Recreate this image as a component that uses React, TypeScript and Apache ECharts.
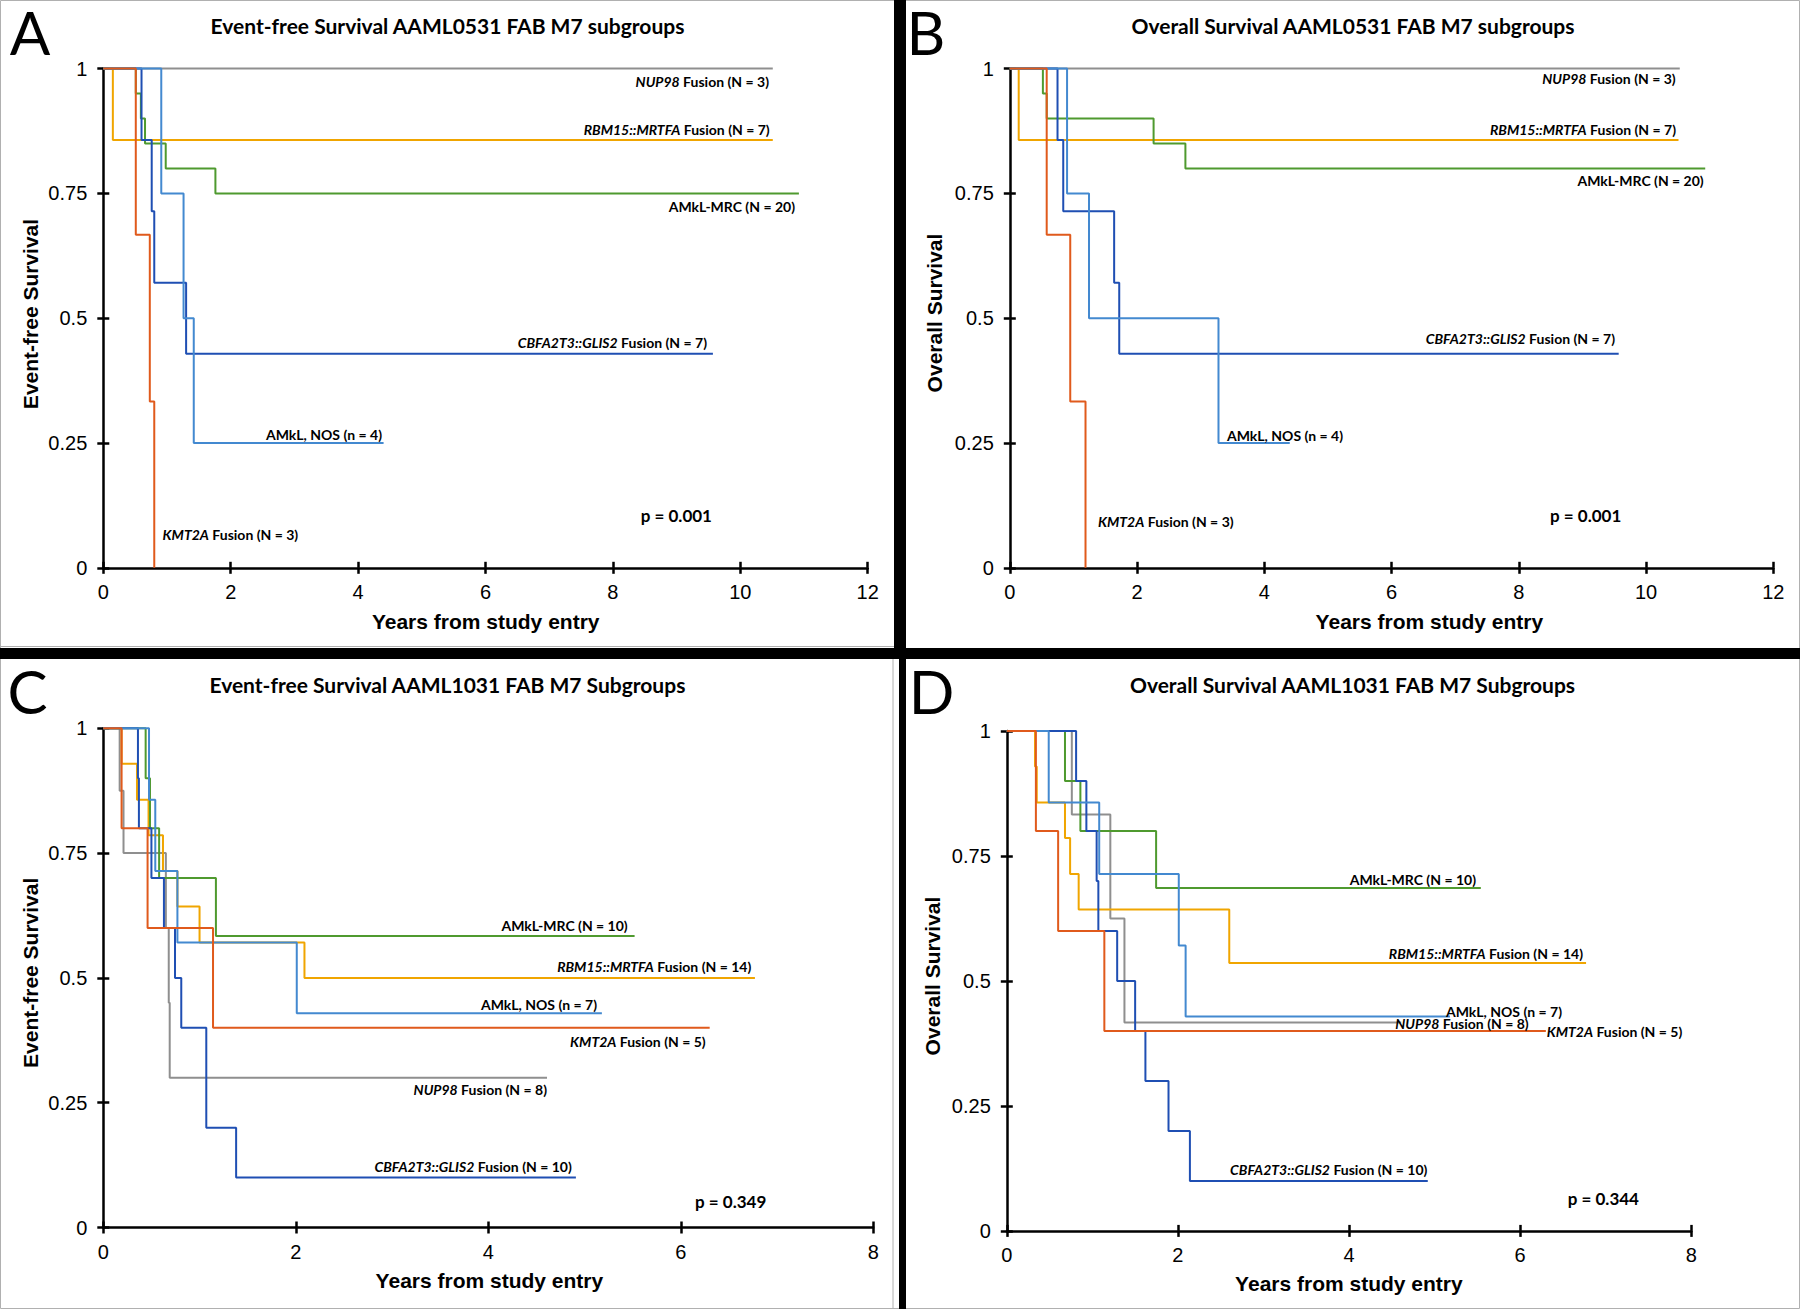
import React, { useEffect, useRef } from "react";
import * as echarts from "echarts";

const W = 1800;
const H = 1309;

// ---------------- DATA ----------------
const GROUPS = ["NUP98", "RBM15::MRTFA", "AMkL-MRC", "CBFA2T3::GLIS2", "AMkL, NOS", "KMT2A"];

// Panel A: Event-free survival AAML0531 (years, survival)
const efs0531_NUP98 = [[0, 1], [10.51, 1]];
const efs0531_RBM15 = [[0, 1], [0.15, 0.857], [10.51, 0.857]];
const efs0531_MRC = [[0, 1], [0.51, 0.95], [0.59, 0.9], [0.655, 0.85], [0.98, 0.8], [1.76, 0.75], [10.92, 0.75]];
const efs0531_CBFA2T3 = [[0, 1], [0.6, 0.857], [0.76, 0.714], [0.8, 0.571], [1.3, 0.429], [9.57, 0.429]];
const efs0531_NOS = [[0, 1], [0.91, 0.75], [1.26, 0.5], [1.42, 0.25], [4.4, 0.25]];
const efs0531_KMT2A = [[0, 1], [0.51, 0.667], [0.73, 0.333], [0.8, 0]];
const n0531 = [3, 7, 20, 7, 4, 3];

// Panel B: Overall survival AAML0531
const os0531_NUP98 = [[0, 1], [10.53, 1]];
const os0531_RBM15 = [[0, 1], [0.14, 0.857], [10.51, 0.857]];
const os0531_MRC = [[0, 1], [0.52, 0.95], [0.58, 0.9], [2.26, 0.85], [2.76, 0.8], [10.93, 0.8]];
const os0531_CBFA2T3 = [[0, 1], [0.75, 0.857], [0.84, 0.714], [1.64, 0.571], [1.72, 0.429], [9.57, 0.429]];
const os0531_NOS = [[0, 1], [0.9, 0.75], [1.245, 0.5], [3.28, 0.25], [4.4, 0.25]];
const os0531_KMT2A = [[0, 1], [0.58, 0.667], [0.95, 0.333], [1.19, 0]];

// Panel C: Event-free survival AAML1031
const efs1031_NUP98 = [[0, 1], [0.17, 0.875], [0.21, 0.75], [0.65, 0.6], [0.68, 0.45], [0.69, 0.3], [4.61, 0.3]];
const efs1031_RBM15 = [[0, 1], [0.19, 0.929], [0.35, 0.857], [0.47, 0.786], [0.62, 0.714], [0.77, 0.643], [1.0, 0.571], [2.09, 0.5], [6.77, 0.5]];
const efs1031_MRC = [[0, 1], [0.44, 0.9], [0.485, 0.8], [0.58, 0.7], [1.17, 0.584], [5.52, 0.584]];
const efs1031_CBFA2T3 = [[0, 1], [0.36, 0.9], [0.37, 0.8], [0.5, 0.7], [0.63, 0.6], [0.745, 0.5], [0.81, 0.4], [1.07, 0.2], [1.38, 0.1], [4.91, 0.1]];
const efs1031_NOS = [[0, 1], [0.475, 0.857], [0.54, 0.714], [0.77, 0.571], [2.01, 0.429], [5.18, 0.429]];
const efs1031_KMT2A = [[0, 1], [0.19, 0.8], [0.46, 0.6], [1.14, 0.4], [6.3, 0.4]];
const n1031 = [8, 14, 10, 10, 7, 5];

// Panel D: Overall survival AAML1031
const os1031_NUP98 = [[0, 1], [0.76, 0.833], [1.21, 0.625], [1.375, 0.417], [4.61, 0.417]];
const os1031_RBM15 = [[0, 1], [0.33, 0.929], [0.35, 0.857], [0.68, 0.786], [0.74, 0.714], [0.84, 0.643], [2.6, 0.536], [6.77, 0.536]];
const os1031_MRC = [[0, 1], [0.68, 0.9], [0.86, 0.8], [1.745, 0.686], [5.54, 0.686]];
const os1031_CBFA2T3 = [[0, 1], [0.81, 0.9], [0.93, 0.8], [1.05, 0.7], [1.07, 0.6], [1.29, 0.5], [1.5, 0.4], [1.62, 0.3], [1.89, 0.2], [2.14, 0.1], [4.92, 0.1]];
const os1031_NOS = [[0, 1], [0.49, 0.857], [1.08, 0.714], [2.01, 0.571], [2.09, 0.429], [5.18, 0.429]];
const os1031_KMT2A = [[0, 1], [0.34, 0.8], [0.6, 0.6], [1.14, 0.4], [6.3, 0.4]];

const pValues = ["0.001", "0.001", "0.349", "0.344"];
const titles = [
  "Event-free Survival AAML0531 FAB M7 subgroups",
  "Overall Survival AAML0531 FAB M7 subgroups",
  "Event-free Survival AAML1031 FAB M7 Subgroups",
  "Overall Survival AAML1031 FAB M7 Subgroups",
];
const yNames = ["Event-free Survival", "Overall Survival", "Event-free Survival", "Overall Survival"];
const xName = "Years from study entry";
const panelLetters = ["A", "B", "C", "D"];
const xMaxes = [12, 12, 8, 8];

// ---------------- STYLE / LAYOUT ----------------
const COLORS = ["#8f8f8f", "#f0a500", "#4f9a2f", "#1f4fb3", "#4389d0", "#e05a1c"];

const panelData = [
  [efs0531_NUP98, efs0531_RBM15, efs0531_MRC, efs0531_CBFA2T3, efs0531_NOS, efs0531_KMT2A],
  [os0531_NUP98, os0531_RBM15, os0531_MRC, os0531_CBFA2T3, os0531_NOS, os0531_KMT2A],
  [efs1031_NUP98, efs1031_RBM15, efs1031_MRC, efs1031_CBFA2T3, efs1031_NOS, efs1031_KMT2A],
  [os1031_NUP98, os1031_RBM15, os1031_MRC, os1031_CBFA2T3, os1031_NOS, os1031_KMT2A],
];
const panelN = [n0531, n0531, n1031, n1031];

const grids = [
  { left: 103.3, top: 68.6, width: 764.4, height: 499.2 },
  { left: 1009.8, top: 68.6, width: 763.5, height: 499.2 },
  { left: 103.3, top: 728.3, width: 770, height: 499.2 },
  { left: 1006.8, top: 730.9, width: 684.5, height: 500 },
];

// annotation placement per panel, in GROUPS order: [x, y, align]
const annotLayout: [number, number, string][][] = [
  [[769, 81.6, "right"], [769.7, 129.8, "right"], [795, 206, "right"], [707, 342, "right"], [382, 434, "right"], [162.6, 534.7, "left"]],
  [[1675.7, 78.8, "right"], [1676, 129.8, "right"], [1703.7, 180, "right"], [1615, 338.8, "right"], [1227, 435.5, "left"], [1098, 521.6, "left"]],
  [[547, 1089.7, "right"], [751.3, 966.4, "right"], [627.7, 925, "right"], [571.8, 1166.9, "right"], [597, 1004, "right"], [705.7, 1041, "right"]],
  [[1528.7, 1023.5, "right"], [1583, 953.6, "right"], [1476, 879, "right"], [1427.4, 1169.9, "right"], [1562, 1011.6, "right"], [1546.7, 1031.6, "left"]],
];
const pLayout = [[640.7, 515], [1550, 515], [695, 1201.9], [1567.7, 1198]];
const titleLayout = [[447.5, 25.3], [1353, 25.3], [447.4, 684.8], [1352.5, 684.8]];
const xNameLayout = [[485.7, 621], [1429.4, 621], [489.4, 1280.8], [1348.9, 1283]];
const yNameLayout = [[30, 314], [934.6, 313], [30, 972.8], [932.5, 976]];
const letterLayout = [[30, 31.5], [926, 31.5], [27.5, 690.5], [931.5, 690.5]];

const ANNOT_FONT = "Lato";
const ANNOT_SIZE = 14;

function annotText(group: string, n: number) {
  if (group.startsWith("AMkL")) {
    const nLetter = group === "AMkL, NOS" ? "n" : "N";
    return `{n|${group} (${nLetter} = ${n})}`;
  }
  return `{i|${group}}{n| Fusion (N = ${n})}`;
}

function buildOption() {
  const xAxes: any[] = [];
  const yAxes: any[] = [];
  const series: any[] = [];
  const graphics: any[] = [];
  const axisLineStyle = { color: "#000", width: 2.5 };

  grids.forEach((_, g) => {
    const xMax = xMaxes[g];
    xAxes.push({
      type: "value", gridIndex: g, min: 0, max: xMax, interval: 2, position: "bottom",
      axisLine: { show: true, onZero: false, lineStyle: axisLineStyle },
      axisTick: { show: true, inside: false, length: 6, lineStyle: axisLineStyle },
      axisLabel: { show: true, color: "#000", fontSize: 20, fontFamily: "Liberation Sans", margin: 14 },
      splitLine: { show: false },
    });
    xAxes.push({
      type: "value", gridIndex: g, min: 0, max: xMax, interval: 2, position: "bottom",
      axisLine: { show: false, onZero: false },
      axisTick: { show: true, inside: true, length: 6, lineStyle: axisLineStyle },
      axisLabel: { show: false },
      splitLine: { show: false },
    });
    yAxes.push({
      type: "value", gridIndex: g, min: 0, max: 1, interval: 0.25, position: "left",
      axisLine: { show: true, onZero: false, lineStyle: axisLineStyle },
      axisTick: { show: true, inside: false, length: 6, lineStyle: axisLineStyle },
      axisLabel: { show: true, color: "#000", fontSize: 20, fontFamily: "Liberation Sans", margin: 16 },
      splitLine: { show: false },
    });
    yAxes.push({
      type: "value", gridIndex: g, min: 0, max: 1, interval: 0.25, position: "left",
      axisLine: { show: false, onZero: false },
      axisTick: { show: true, inside: true, length: 6, lineStyle: axisLineStyle },
      axisLabel: { show: false },
      splitLine: { show: false },
    });

    panelData[g].forEach((data, k) => {
      series.push({
        type: "line",
        name: `${panelLetters[g]} ${GROUPS[k]}`,
        xAxisIndex: 2 * g,
        yAxisIndex: 2 * g,
        step: "end",
        data,
        showSymbol: false,
        symbol: "none",
        clip: false,
        silent: true,
        lineStyle: { color: COLORS[k], width: 2 },
        z: 3,
      });
    });

    // annotations
    annotLayout[g].forEach(([x, y, align], k) => {
      graphics.push({
        type: "text", x, y, silent: true, z: 10,
        style: {
          text: annotText(GROUPS[k], panelN[g][k]),
          align, verticalAlign: "middle",
          fontFamily: ANNOT_FONT, fontSize: ANNOT_SIZE, fontWeight: "bold", fill: "#000", lineHeight: 11,
          rich: {
            i: { fontFamily: ANNOT_FONT, fontSize: ANNOT_SIZE, fontWeight: "bold", fontStyle: "italic", fill: "#000", lineHeight: 11 },
            n: { fontFamily: ANNOT_FONT, fontSize: ANNOT_SIZE, fontWeight: "bold", fill: "#000", lineHeight: 11 },
          },
        },
      });
    });

    graphics.push({
      type: "text", x: pLayout[g][0], y: pLayout[g][1], silent: true,
      style: { text: `p = ${pValues[g]}`, align: "left", verticalAlign: "middle", fontFamily: "Lato", fontSize: 17, fontWeight: "bold", fill: "#000" },
    });
    graphics.push({
      type: "text", x: titleLayout[g][0], y: titleLayout[g][1], silent: true,
      style: { text: titles[g], align: "center", verticalAlign: "middle", fontFamily: "Lato", fontSize: 21, fontWeight: "bold", fill: "#000" },
    });
    graphics.push({
      type: "text", x: xNameLayout[g][0], y: xNameLayout[g][1], silent: true,
      style: { text: xName, align: "center", verticalAlign: "middle", fontFamily: "Liberation Sans", fontSize: 21, fontWeight: "bold", fill: "#000" },
    });
    graphics.push({
      type: "text", x: yNameLayout[g][0], y: yNameLayout[g][1], rotation: Math.PI / 2, silent: true,
      style: { text: yNames[g], align: "center", verticalAlign: "middle", fontFamily: "Liberation Sans", fontSize: 21, fontWeight: "bold", fill: "#000" },
    });
    graphics.push({
      type: "text", x: letterLayout[g][0], y: letterLayout[g][1], silent: true,
      style: { text: panelLetters[g], align: "center", verticalAlign: "middle", fontFamily: "Lato", fontSize: 60, lineHeight: 44, fontWeight: "normal", fill: "#000" },
    });
  });

  // frame: outer grey border, black dividers
  graphics.push({ type: "rect", shape: { x: 0.5, y: 0.5, width: W - 1, height: H - 1 }, style: { fill: "none", stroke: "#b0b0b0", lineWidth: 1 }, silent: true, z: 0 });
  graphics.push({ type: "rect", shape: { x: 894, y: 0, width: 12, height: 652 }, style: { fill: "#000" }, silent: true, z: 20 });
  graphics.push({ type: "rect", shape: { x: 899, y: 648, width: 7, height: H }, style: { fill: "#000" }, silent: true, z: 20 });
  graphics.push({ type: "rect", shape: { x: 0, y: 648, width: W, height: 11 }, style: { fill: "#000" }, silent: true, z: 20 });
  graphics.push({ type: "line", shape: { x1: 893, y1: 659, x2: 893, y2: H }, style: { stroke: "#b0b0b0", lineWidth: 1 }, silent: true });
  graphics.push({ type: "line", shape: { x1: 0, y1: 646.5, x2: 894, y2: 646.5 }, style: { stroke: "#b0b0b0", lineWidth: 1 }, silent: true });

  return {
    animation: false,
    backgroundColor: "#fff",
    grid: grids.map((g) => ({ ...g, containLabel: false })),
    xAxis: xAxes,
    yAxis: yAxes,
    series,
    graphic: { elements: graphics },
  };
}

export default function App() {
  const ref = useRef<HTMLDivElement>(null);
  useEffect(() => {
    document.body.style.margin = "0";
    const chart = echarts.init(ref.current as HTMLDivElement, null, { renderer: "svg", width: W, height: H });
    chart.setOption(buildOption() as any);
    return () => chart.dispose();
  }, []);
  return <div ref={ref} style={{ width: W, height: H, background: "#fff" }} />;
}
